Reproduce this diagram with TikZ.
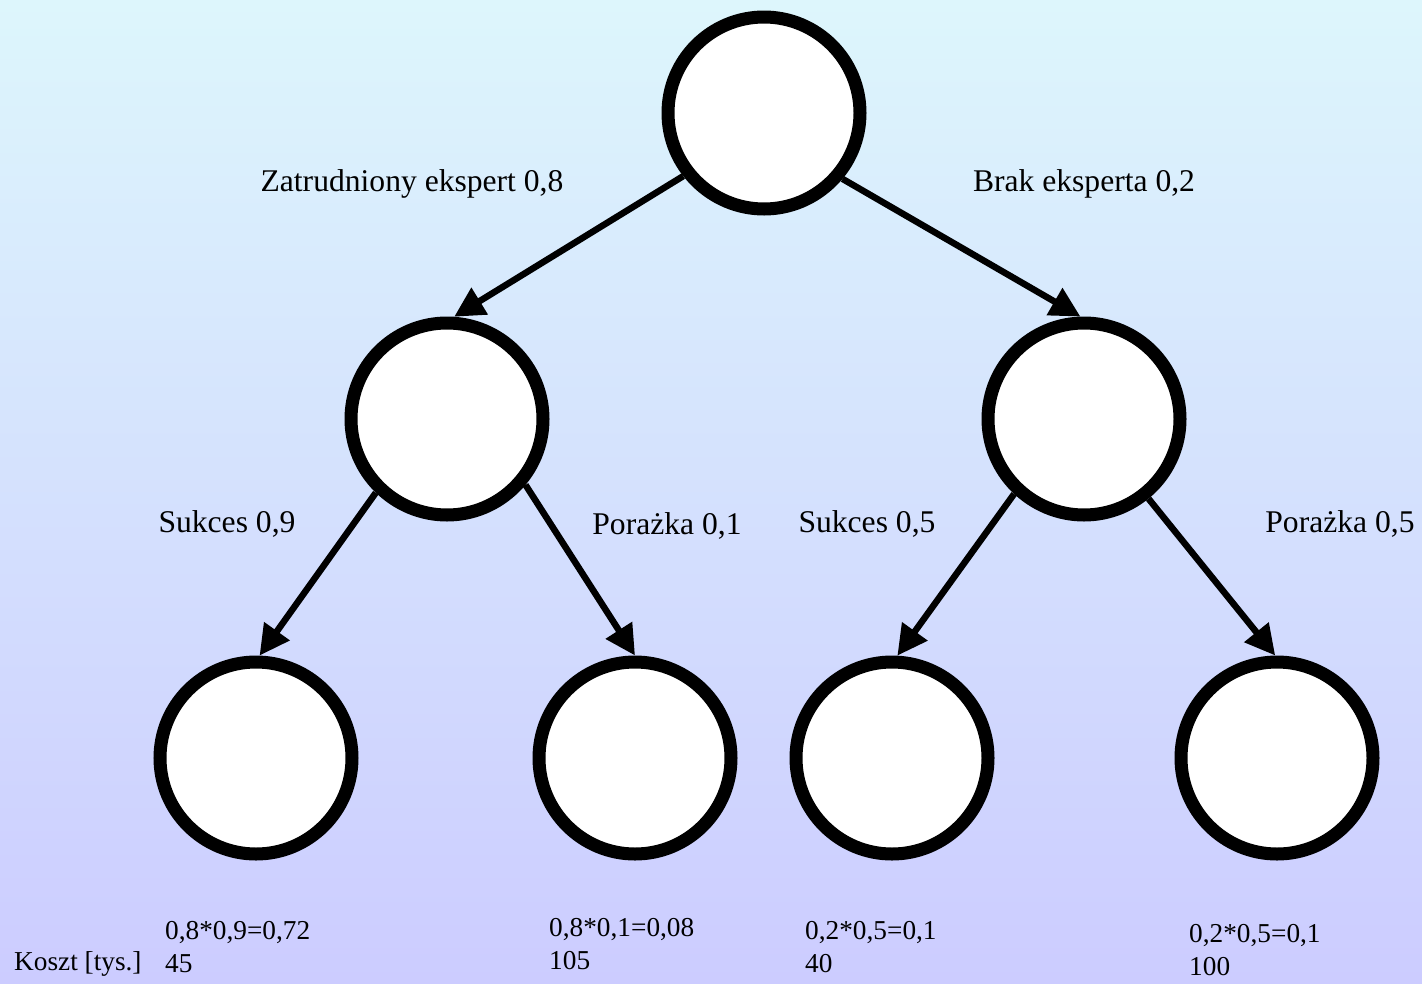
\documentclass[tikz,border=0pt]{standalone}
\usepackage{fontspec}
\setmainfont{Liberation Serif}
\usetikzlibrary{arrows.meta}
\definecolor{bgtop}{RGB}{221,246,252}
\definecolor{bgbot}{RGB}{204,204,255}
\begin{document}
\begin{tikzpicture}[x=1pt,y=-1pt,
  state/.style={circle,draw=black,fill=white,line width=13pt,minimum size=192pt,inner sep=0pt},
  conn/.style={line width=6.5pt,-{Triangle[length=30pt,width=30pt]}},
  lbl/.style={font=\fontsize{31.6}{33}\selectfont,inner sep=0pt},
  small/.style={font=\fontsize{27.3}{33}\selectfont,inner sep=0pt,anchor=west,align=left}]
\shade[top color=bgtop,bottom color=bgbot] (0,0) rectangle (1422,983);
\useasboundingbox (0,0) rectangle (1422,983);
\node[state] (top) at (764,113) {};
\node[state] (ml) at (447,419) {};
\node[state] (mr) at (1084,419) {};
\node[state] (b1) at (256,758) {};
\node[state] (b2) at (635,758) {};
\node[state] (b3) at (892,758) {};
\node[state] (b4) at (1277,758) {};
\draw[conn] (top.218.6) -- (ml.86.7);
\draw[conn] (top.320.6) -- (mr.92.3);
\draw[conn] (ml.226.5) -- (b1.88.9);
\draw[conn] (ml.320) -- (b2.90);
\draw[conn] (mr.227.7) -- (b3.87.3);
\draw[conn] (mr.309.4) -- (b4.91.1);
\node[lbl] (l1) at (412,184) {Zatrudniony ekspert 0,8};
\node[lbl] (l2) at (1084,184) {Brak eksperta 0,2};
\node[lbl] (l3) at (227,524) {Sukces 0,9};
\node[lbl] (l4) at (667,526) {Porażka 0,1};
\node[lbl] (l5) at (867,524) {Sukces 0,5};
\node[lbl] (l6) at (1340,524) {Porażka 0,5};
\node[small] (k) at (14,964) {Koszt [tys.]};
\node[small] (r1) at (165,947) {0,8*0,9=0,72\\45};
\node[small] (r2) at (549,944) {0,8*0,1=0,08\\105};
\node[small] (r3) at (805,947) {0,2*0,5=0,1\\40};
\node[small] (r4) at (1189,950) {0,2*0,5=0,1\\100};
\end{tikzpicture}
\end{document}
